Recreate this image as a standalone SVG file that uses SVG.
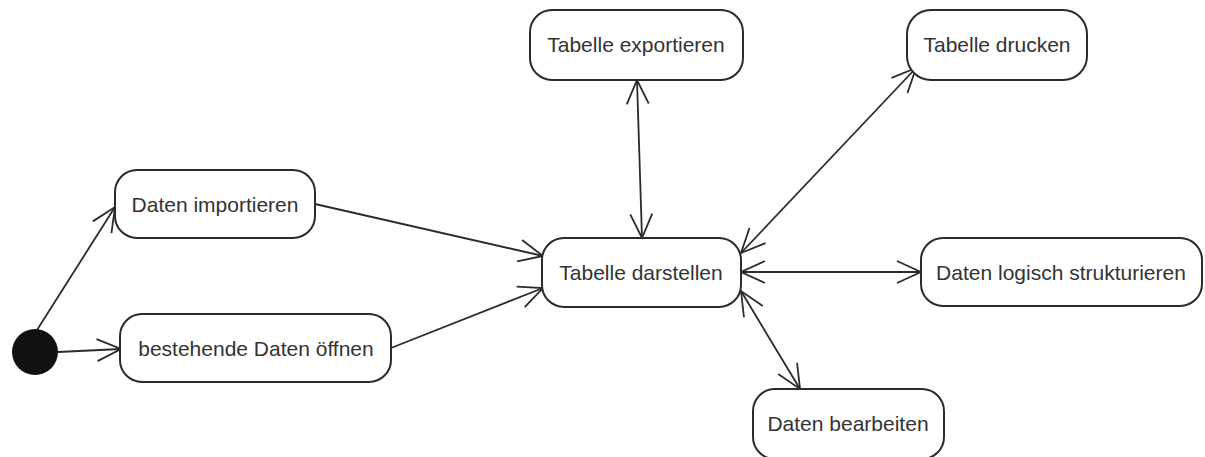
<svg xmlns="http://www.w3.org/2000/svg" width="1205" height="457" viewBox="0 0 1205 457">
  <defs>
    <style>
      .node rect { fill: #ffffff; stroke: #2b2b2b; stroke-width: 2; }
      .node text { font-family: "Liberation Sans", Arial, sans-serif; font-size: 21px; fill: #333333; text-anchor: middle; }
      .edge { stroke: #2b2b2b; stroke-width: 1.8; fill: none; }
      .uni { marker-end: url(#arrow); }
      .bi { marker-end: url(#arrow); marker-start: url(#arrow); }
    </style>
    <marker id="arrow" viewBox="0 0 26 26" markerWidth="26" markerHeight="26" refX="25" refY="13" orient="auto-start-reverse" markerUnits="userSpaceOnUse">
      <path d="M 1 2 L 25 13 L 1 24" fill="none" stroke="#2b2b2b" stroke-width="1.8"/>
    </marker>
  </defs>
  <rect x="0" y="0" width="1205" height="457" fill="#ffffff"/>

  <g id="connectors">
    <line class="edge uni" x1="37" y1="330" x2="115" y2="207"/>
    <line class="edge uni" x1="58" y1="352" x2="121" y2="349"/>
    <line class="edge uni" x1="315" y1="204" x2="543" y2="256"/>
    <line class="edge uni" x1="391" y1="348" x2="543" y2="288"/>
    <line class="edge bi" x1="637" y1="80" x2="642" y2="238"/>
    <line class="edge bi" x1="741" y1="253" x2="916" y2="68"/>
    <line class="edge bi" x1="741" y1="272" x2="921" y2="272"/>
    <line class="edge bi" x1="741" y1="291" x2="800" y2="389"/>
  </g>

  <g id="start">
    <circle cx="35" cy="352" r="23" fill="#111111"/>
  </g>
  <g id="daten-importieren" class="node">
    <rect x="115" y="170" width="200" height="68" rx="22"/>
    <text x="215" y="212">Daten importieren</text>
  </g>
  <g id="bestehende-daten-oeffnen" class="node">
    <rect x="120" y="314" width="271" height="68" rx="22"/>
    <text x="256" y="356">bestehende Daten öffnen</text>
  </g>
  <g id="tabelle-darstellen" class="node">
    <rect x="542" y="238" width="199" height="69" rx="22"/>
    <text x="641" y="280">Tabelle darstellen</text>
  </g>
  <g id="tabelle-exportieren" class="node">
    <rect x="530" y="10" width="213" height="70" rx="22"/>
    <text x="636" y="52">Tabelle exportieren</text>
  </g>
  <g id="tabelle-drucken" class="node">
    <rect x="907" y="10" width="180" height="70" rx="24"/>
    <text x="997" y="52">Tabelle drucken</text>
  </g>
  <g id="daten-logisch-strukturieren" class="node">
    <rect x="921" y="238" width="281" height="68" rx="22"/>
    <text x="1061" y="280">Daten logisch strukturieren</text>
  </g>
  <g id="daten-bearbeiten" class="node">
    <rect x="753" y="389" width="191" height="70" rx="22"/>
    <text x="848" y="431">Daten bearbeiten</text>
  </g>
</svg>
